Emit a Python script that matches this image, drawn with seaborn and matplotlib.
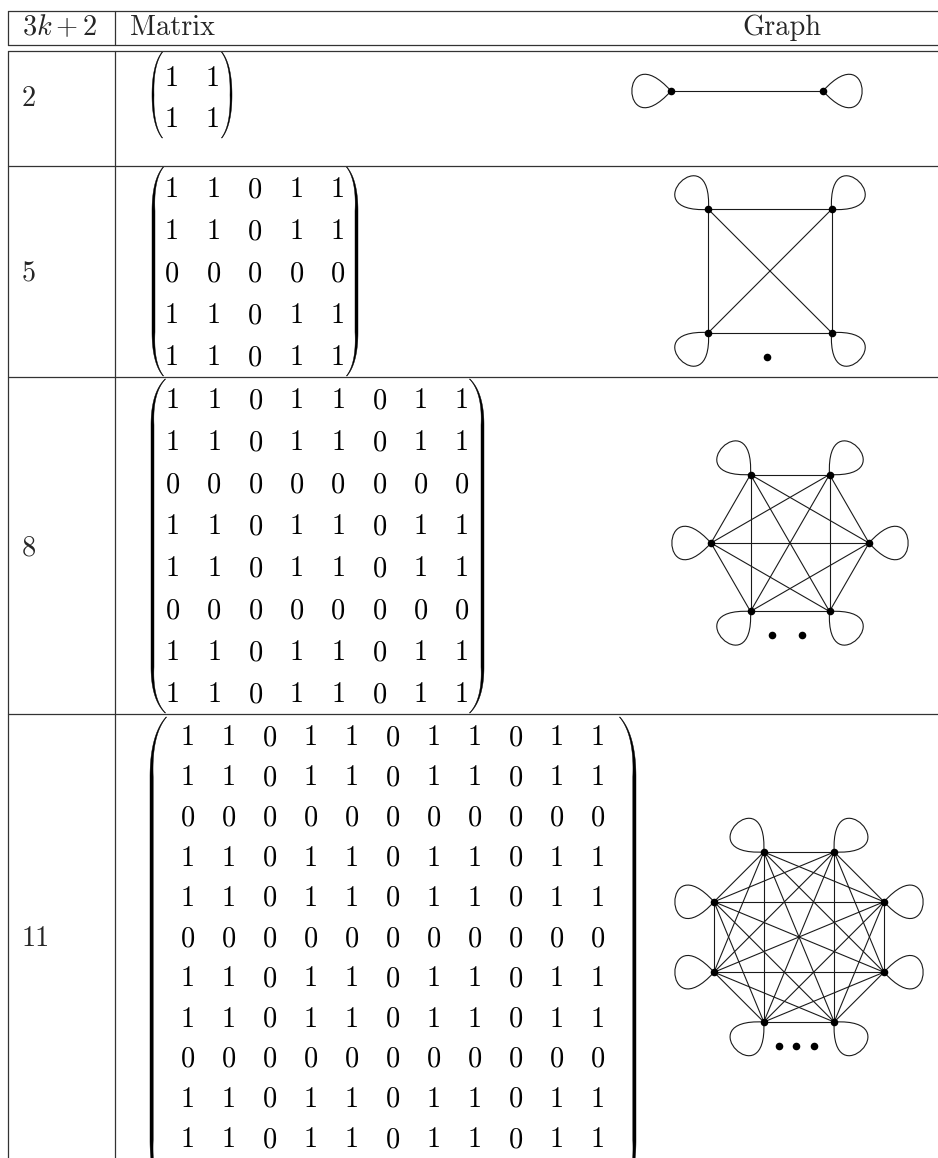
import numpy as np
import matplotlib

matplotlib.use("Agg")
import matplotlib.pyplot as plt
import pandas as pd
import seaborn as sns
from matplotlib.collections import LineCollection
from matplotlib.colors import ListedColormap
from matplotlib.patches import PathPatch, Polygon
from matplotlib.path import Path

sns.set_theme(style="white")
# LaTeX 風の Computer Modern フォント
plt.rcParams["font.family"] = ["cmr10", "DejaVu Sans"]
plt.rcParams["mathtext.fontset"] = "cm"
plt.rcParams["axes.formatter.use_mathtext"] = True

W, H = 938, 1158

# ---- データ ----
HEADERS = ["$3k+2$", "Matrix", "Graph"]
SIZES = ["2", "5", "8", "11"]
MATRIX_2 = ["11", "11"]
MATRIX_5 = ["11011", "11011", "00000", "11011", "11011"]
MATRIX_8 = [
    "11011011",
    "11011011",
    "00000000",
    "11011011",
    "11011011",
    "00000000",
    "11011011",
    "11011011",
]
MATRIX_11 = [
    "11011011011",
    "11011011011",
    "00000000000",
    "11011011011",
    "11011011011",
    "00000000000",
    "11011011011",
    "11011011011",
    "00000000000",
    "11011011011",
    "11011011011",
]
MATRICES = [MATRIX_2, MATRIX_5, MATRIX_8, MATRIX_11]

# ---- レイアウト (ピクセル) ----
ROW_LINES = [166, 377, 714]
LABEL_Y = [97, 272, 546, 937]
# (最初の列 x, 列間隔, 最初の行 y, 行間隔)
MAT_GRID = [
    (172, 41.0, 77, 41.0),
    (172, 41.5, 188, 42.0),
    (173, 41.3, 399, 42.0),
    (188, 41.0, 736, 40.2),
]
# (左の膨らみ x, 右の膨らみ x, 上端, 下端, フック高さ, 先端のずれ, 最大太さ)
PARENS = [
    (152, 232, 52, 138, 43, 10, 2.0),
    (152, 358, 167, 376, 44, 11, 3.0),
    (151, 484, 379, 713, 46, 14, 3.0),
    (150, 636, 717, 1200, 60, 16, 3.2),
]
GRAPH_C = [(747, 91), (770, 271), (790, 543), (799, 937)]
GRAPH_R = [76, 87, 79, 92]
DOT_GAP = [0, 0, 30, 17.5]
FS = 20.4
HALF_DIGIT = 9.1


def matrix_frame(rows):
    return pd.DataFrame([[int(c) for c in r] for r in rows])


def paren_poly(xb, xt, y0, y1, hook, wmax, side):
    t = np.linspace(0, 1, 40)
    cx, cy = xb, y0 + 0.3 * hook
    hx = (1 - t) ** 2 * xt + 2 * (1 - t) * t * cx + t ** 2 * xb
    hy = (1 - t) ** 2 * y0 + 2 * (1 - t) * t * cy + t ** 2 * (y0 + hook)
    w = 0.7 + (wmax - 0.7) * t ** 1.3
    ox = np.concatenate([hx, hx[::-1]])
    oy = np.concatenate([hy, (y0 + y1) - hy[::-1]])
    ww = np.concatenate([w, w[::-1]])
    xs = np.concatenate([ox, (ox + side * ww)[::-1]])
    ys = np.concatenate([oy, oy[::-1]])
    return np.column_stack([xs, ys])


def loop_path(px, py, deg, length=78, spread=48):
    a1, a2 = np.radians(deg + spread), np.radians(deg - spread)
    c1 = (px + length * np.cos(a1), py - length * np.sin(a1))
    c2 = (px + length * np.cos(a2), py - length * np.sin(a2))
    verts = [(px, py), c1, c2, (px, py)]
    codes = [Path.MOVETO, Path.CURVE4, Path.CURVE4, Path.CURVE4]
    return Path(verts, codes)


fig = plt.figure(figsize=(W / 100, H / 100), dpi=100)
ax = fig.add_axes([0, 0, 1, 1])
ax.set_xlim(0, W)
ax.set_ylim(H, 0)
ax.axis("off")

# 表の罫線
line_kw = dict(color="#333333", lw=0.9)
for y in [10.5, 45, 50.5] + ROW_LINES:
    ax.plot([7.5, W], [y, y], **line_kw)
for x in [7.5, 115]:
    ax.plot([x, x], [10.5, 45], **line_kw)
    ax.plot([x, x], [50.5, H], **line_kw)

# 見出し
ax.text(22, 35, HEADERS[0], fontsize=FS, va="baseline", ha="left")
ax.text(130, 35, HEADERS[1], fontsize=FS, va="baseline", ha="left")
ax.text(742, 35, HEADERS[2], fontsize=FS, va="baseline", ha="left")

for i, rows in enumerate(MATRICES):
    n = len(rows)
    ax.text(22, LABEL_Y[i] + HALF_DIGIT, SIZES[i], fontsize=FS, va="baseline", ha="left")

    # 行列 (ヒートマップの注釈で数字を描く)
    x0, cs, y0, rs = MAT_GRID[i]
    left = x0 - cs / 2
    top = y0 + HALF_DIGIT - rs / 2
    hax = fig.add_axes([left / W, 1 - (top + n * rs) / H, n * cs / W, n * rs / H])
    df = matrix_frame(rows)
    sns.heatmap(
        df,
        ax=hax,
        cmap=ListedColormap(["white"]),
        cbar=False,
        annot=True,
        fmt="d",
        xticklabels=False,
        yticklabels=False,
        annot_kws={"fontsize": FS, "color": "black", "va": "baseline", "fontfamily": "cmr10"},
    )
    hax.collections[0].set_visible(False)
    hax.patch.set_alpha(0)
    hax.axis("off")

    # 括弧
    xl, xr, py0, py1, hook, inset, wmax = PARENS[i]
    ax.add_patch(Polygon(paren_poly(xl, xl + inset, py0, py1, hook, wmax, 1), closed=True,
                         facecolor="black", edgecolor="black", lw=0.3))
    ax.add_patch(Polygon(paren_poly(xr, xr - inset, py0, py1, hook, wmax, -1), closed=True,
                         facecolor="black", edgecolor="black", lw=0.3))

    # グラフ (行列の隣接関係から)
    active = [k for k in range(n) if rows[k][k] == "1"]
    isolated = [k for k in range(n) if rows[k][k] == "0"]
    m = len(active)
    cx, cy = GRAPH_C[i]
    r = GRAPH_R[i]
    ang = np.radians(90 + 180 / m + 360 * np.arange(m) / m)
    px = cx + r * np.cos(ang)
    py = cy - r * np.sin(ang)
    pos = {k: (px[j], py[j]) for j, k in enumerate(active)}

    segs = []
    for a in range(n):
        for b in range(a + 1, n):
            if rows[a][b] == "1":
                segs.append([pos[a], pos[b]])
    ax.add_collection(LineCollection(segs, colors="#1a1a1a", linewidths=0.8))

    for j, k in enumerate(active):
        c, s = np.cos(ang[j]), np.sin(ang[j])
        if abs(c) > 0.8:
            d = 0 if c > 0 else 180
        else:
            d = np.degrees(np.arctan2(np.sign(s), np.sign(c)))
        ax.add_patch(PathPatch(loop_path(px[j], py[j], d), fill=False, edgecolor="#1a1a1a", lw=0.8))

    sns.scatterplot(x=px, y=py, ax=ax, s=30, color="black", linewidth=0, zorder=5)

    if isolated:
        ybot = py.max() + 24
        nd = len(isolated)
        dx = cx - 3 + (np.arange(nd) - (nd - 1) / 2) * DOT_GAP[i]
        sns.scatterplot(x=dx, y=np.full(nd, ybot), ax=ax, s=30, color="black", linewidth=0, zorder=5)

ax.set_xlim(0, W)
ax.set_ylim(H, 0)
ax.axis("off")

fig.savefig("out.png", dpi=100)
plt.close(fig)
